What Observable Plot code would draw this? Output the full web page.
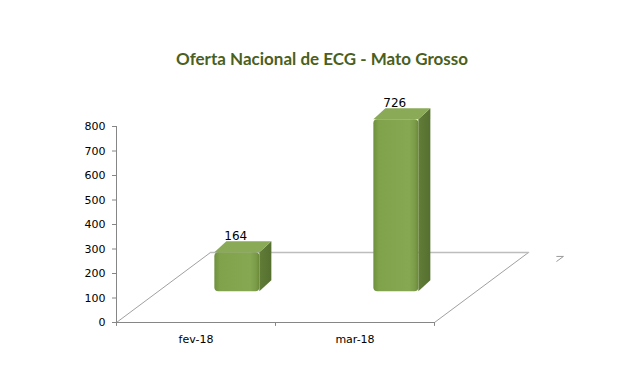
<!DOCTYPE html>
<html>
<head>
<meta charset="utf-8">
<script src="https://cdn.jsdelivr.net/npm/d3@7"></script>
<script src="https://cdn.jsdelivr.net/npm/@observablehq/plot@0.6"></script>
<style>
  html, body { margin: 0; padding: 0; background: #fff; }
  #chart svg { display: block; }
  g[aria-label="y-axis tick"] { stroke: #868686; }
</style>
</head>
<body>
<div id="chart"></div>
<script>
const title = "Oferta Nacional de ECG - Mato Grosso";
const categories = ["fev-18", "mar-18"];
const values = [164, 726];
const yTicks = [0, 100, 200, 300, 400, 500, 600, 700, 800];

// 3D-look geometry (layout constants, in scale units)
const depthX = 0.591;   // floor depth, x units
const depthY = 285.7;   // floor depth, y units
const pos = 0.44;       // bar depth position as fraction of floor depth
const halfW = 0.1415;   // half bar front width
const sideX = 0.0755, sideY = 44.9; // bar side/top offset
const k = 0.967;        // bar height factor in perspective

const bars = categories.map((c, i) => {
  const cx = i + 0.5 + pos * depthX;
  const base = pos * depthY;
  return {c, v: values[i], cx, x1: cx - halfW, x2: cx + halfW, base, top: base + values[i] * k};
});
const sidePts = bars.flatMap(b => [
  {c: b.c, x: b.x2, y1: b.base, y2: b.top},
  {c: b.c, x: b.x2 + sideX, y1: b.base + sideY, y2: b.top + sideY}
]);
const topPts = bars.flatMap(b => [
  {c: b.c, y: b.top, x1: b.x1, x2: b.x2},
  {c: b.c, y: b.top + sideY, x1: b.x1 + sideX, x2: b.x2 + sideX}
]);
const n = categories.length;
const diagLines = [
  {g: "l", x: 0, y: 0}, {g: "l", x: depthX, y: depthY},
  {g: "r", x: n, y: 0}, {g: "r", x: n + depthX, y: depthY}
];
const backLine = [{x: depthX, y: depthY}, {x: n + depthX, y: depthY}];
const depthTick = [
  {x: n + depthX + 0.178, y: depthY - 16}, {x: n + depthX + 0.22, y: depthY - 16}, {x: n + depthX + 0.178, y: depthY - 36}
];

const plot = Plot.plot({
  width: 620,
  height: 382,
  marginLeft: 116,
  marginRight: 27,
  marginTop: 126,
  marginBottom: 60,
  style: {fontFamily: "'DejaVu Sans', sans-serif", fontSize: "11px", color: "#000", background: "#fff"},
  x: {domain: [0, 3], axis: null},
  y: {domain: [0, 800], ticks: yTicks, tickSize: 4, tickPadding: 7, label: null, tickFormat: d => String(d)},
  marks: [
    Plot.line(diagLines, {x: "x", y: "y", z: "g", stroke: "#a0a0a0", strokeWidth: 1}),
    Plot.line(backLine, {x: "x", y: "y", stroke: "#bdbdbd", strokeWidth: 1.5}),
    Plot.line(depthTick, {x: "x", y: "y", stroke: "#9a9a9a", strokeWidth: 1}),
    Plot.ruleX([0], {y1: -16, y2: 800, stroke: "#868686"}),
    Plot.ruleY([0], {x1: 0, x2: n, stroke: "#868686"}),
    Plot.ruleX(d3.range(1, n + 1), {y1: -16, y2: 0, stroke: "#868686"}),
    Plot.areaY(sidePts, {x: "x", y1: "y1", y2: "y2", z: "c", fill: "url(#sideGrad)"}),
    Plot.areaX(topPts, {y: "y", x1: "x1", x2: "x2", z: "c", fill: "#8aaa57"}),
    Plot.rect(bars, {x1: "x1", x2: "x2", y1: "base", y2: "top", fill: "url(#frontGrad)", rx: 4}),
    Plot.text(bars, {x: d => d.cx - 0.01, y: d => d.top + sideY, text: d => String(d.v), dy: -2, lineAnchor: "bottom", fontSize: 12, fill: "#000"}),
    Plot.text(categories, {x: (d, i) => i + 0.5, y: 0, text: d => d, dy: 17, fill: "#000"}),
    Plot.text([title], {frameAnchor: "top", dx: -33, dy: -74, fontFamily: "Lato, 'Open Sans', sans-serif", fontWeight: "bold", fontSize: 17, fill: "#4a5f22"})
  ]
});

const defs = d3.create("svg:defs");
const fg = defs.append("linearGradient").attr("id", "frontGrad").attr("x1", "0").attr("x2", "1").attr("y1", "0").attr("y2", "0");
fg.append("stop").attr("offset", "0").attr("stop-color", "#6f8f3e");
fg.append("stop").attr("offset", "0.12").attr("stop-color", "#80a24b");
fg.append("stop").attr("offset", "0.8").attr("stop-color", "#86a852");
fg.append("stop").attr("offset", "0.93").attr("stop-color", "#7a9a47");
fg.append("stop").attr("offset", "1").attr("stop-color", "#6a8a39");
const sg = defs.append("linearGradient").attr("id", "sideGrad").attr("x1", "0").attr("x2", "1").attr("y1", "0").attr("y2", "0");
sg.append("stop").attr("offset", "0").attr("stop-color", "#617d37");
sg.append("stop").attr("offset", "1").attr("stop-color", "#566f30");
plot.insertBefore(defs.node(), plot.firstChild);

document.getElementById("chart").appendChild(plot);
</script>
</body>
</html>
